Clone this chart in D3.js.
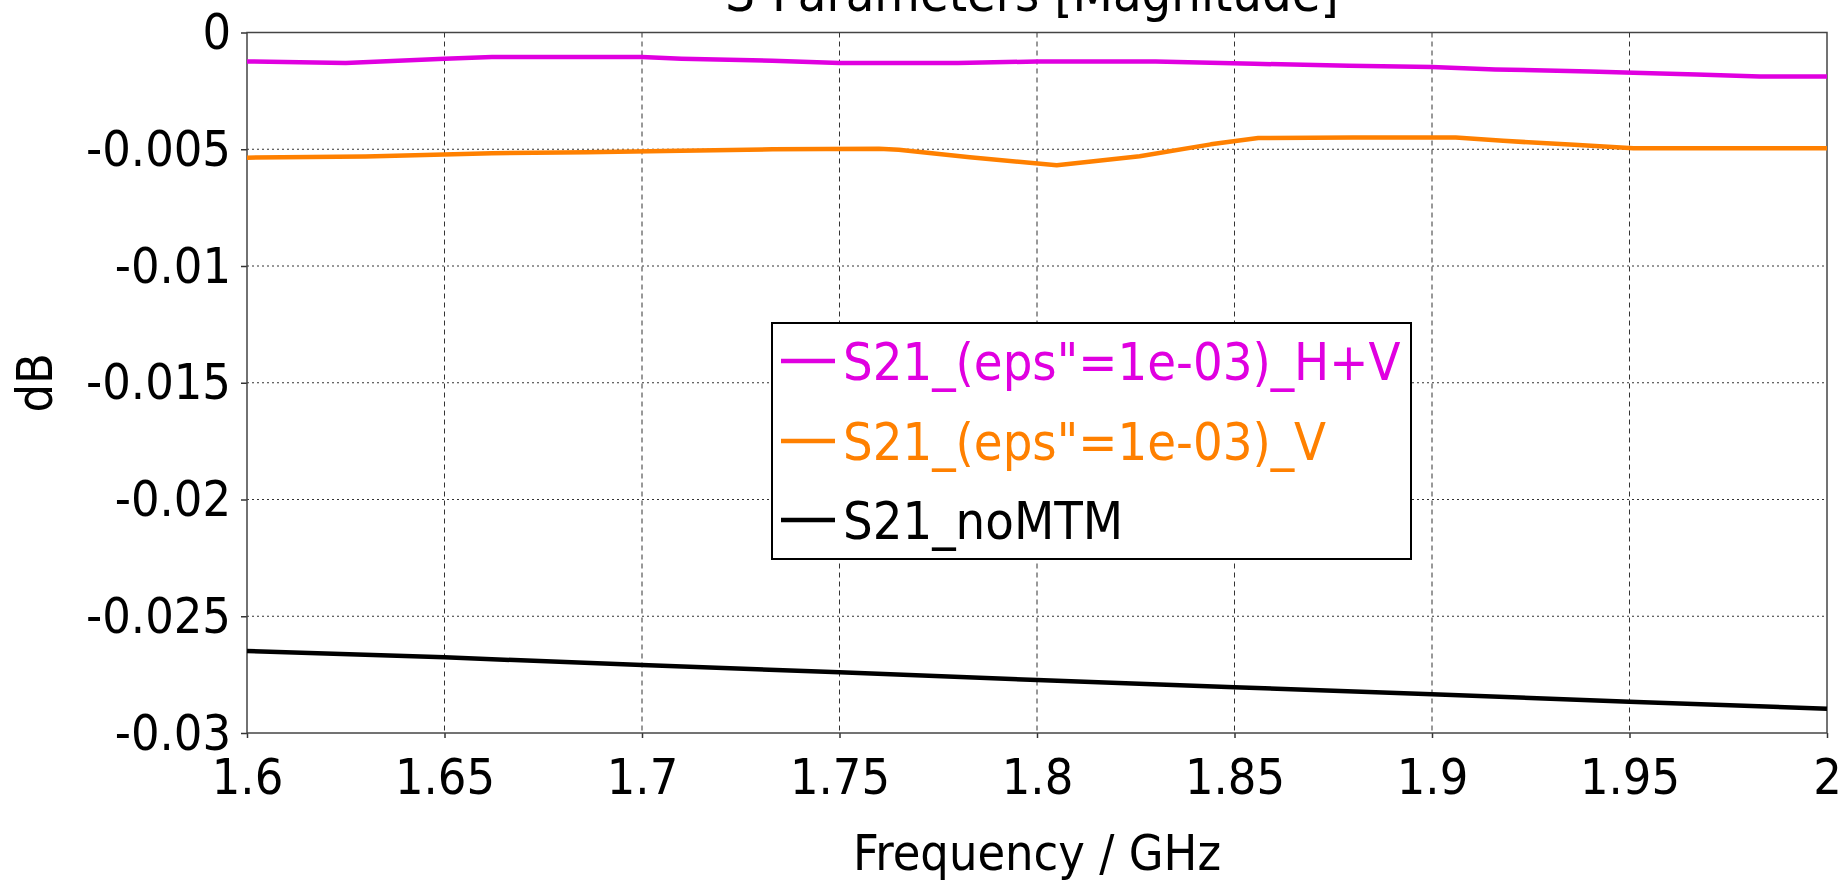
<!DOCTYPE html>
<html>
<head>
<meta charset="utf-8">
<script src="https://cdn.jsdelivr.net/npm/d3@7"></script>
<style>
  html, body { margin: 0; padding: 0; background: #fff; overflow: hidden; }
  text { font-family: "DejaVu Sans Condensed", "DejaVu Sans", sans-serif; }
</style>
</head>
<body>
<svg id="chart" width="1844" height="880"></svg>
<script>
// ---- Data ----
const xTicks = [1.6, 1.65, 1.7, 1.75, 1.8, 1.85, 1.9, 1.95, 2.0];
const xTickLabels = ["1.6", "1.65", "1.7", "1.75", "1.8", "1.85", "1.9", "1.95", "2"];
const yTicks = [0, -0.005, -0.01, -0.015, -0.02, -0.025, -0.03];
const yTickLabels = ["0", "-0.005", "-0.01", "-0.015", "-0.02", "-0.025", "-0.03"];

const freqHV = [1.600, 1.625, 1.650, 1.662, 1.700, 1.710, 1.733, 1.750, 1.780, 1.800, 1.830, 1.855, 1.879, 1.900, 1.916, 1.940, 1.951, 1.967, 1.983, 2.000];
const valHV  = [-0.00124, -0.00131, -0.00112, -0.00105, -0.00105, -0.00112, -0.00121, -0.00131, -0.00131, -0.00124, -0.00124, -0.00134, -0.00142, -0.00148, -0.00158, -0.00167, -0.00172, -0.00180, -0.00188, -0.00188];

const freqV = [1.600, 1.630, 1.645, 1.662, 1.686, 1.710, 1.733, 1.760, 1.765, 1.783, 1.805, 1.826, 1.844, 1.856, 1.880, 1.906, 1.918, 1.936, 1.951, 2.000];
const valV  = [-0.00536, -0.00531, -0.00525, -0.00517, -0.00513, -0.00506, -0.00500, -0.00498, -0.00502, -0.00534, -0.00569, -0.00530, -0.00479, -0.00452, -0.00450, -0.00450, -0.00464, -0.00481, -0.00496, -0.00496];

const freqNo = [1.60, 1.65, 1.70, 1.75, 1.80, 1.85, 1.90, 1.95, 2.00];
const valNo  = [-0.02649, -0.02676, -0.02709, -0.02740, -0.02773, -0.02804, -0.02834, -0.02866, -0.02896];

const seriesNames = ["S21_(eps\"=1e-03)_H+V", "S21_(eps\"=1e-03)_V", "S21_noMTM"];
const seriesColors = ["#e000e0", "#ff8000", "#000000"];

const titleText = "S-Parameters [Magnitude]";
const xLabel = "Frequency / GHz";
const yLabel = "dB";

// ---- Layout ----
const W = 1844, H = 880;
const margin = { left: 247, right: 17, top: 32.5, bottom: 147 };
const pw = W - margin.left - margin.right;
const ph = H - margin.top - margin.bottom;

const svg = d3.select("#chart");
const g = svg.append("g").attr("transform", `translate(${margin.left},${margin.top})`);

const x = d3.scaleLinear().domain([1.6, 2.0]).range([0, pw]);
const y = d3.scaleLinear().domain([-0.03, 0]).range([ph, 0]);

// Grid lines
g.append("g").selectAll("line").data(xTicks.slice(1, -1)).join("line")
  .attr("x1", d => x(d)).attr("x2", d => x(d))
  .attr("y1", 0).attr("y2", ph)
  .attr("stroke", "#333").attr("stroke-width", 1)
  .attr("stroke-dasharray", "5,4");
g.append("g").selectAll("line").data(yTicks.slice(1, -1)).join("line")
  .attr("x1", 0).attr("x2", pw)
  .attr("y1", d => y(d)).attr("y2", d => y(d))
  .attr("stroke", "#333").attr("stroke-width", 1)
  .attr("stroke-dasharray", "2,3");

// Axes
const xAxis = d3.axisBottom(x).tickValues(xTicks)
  .tickFormat((d, i) => xTickLabels[i]).tickSize(5).tickPadding(20);
const gx = g.append("g").attr("transform", `translate(0,${ph})`).call(xAxis);
gx.select(".domain").remove();
gx.selectAll("line").attr("stroke", "#333").attr("stroke-width", 1.5);
gx.selectAll("text").attr("font-size", 50).attr("fill", "#000")
  .attr("font-family", "'DejaVu Sans Condensed', 'DejaVu Sans', sans-serif");

const yAxis = d3.axisLeft(y).tickValues(yTicks)
  .tickFormat((d, i) => yTickLabels[i]).tickSize(6).tickPadding(10);
const gy = g.append("g").call(yAxis);
gy.select(".domain").remove();
gy.selectAll("line").attr("stroke", "#333").attr("stroke-width", 1.5);
gy.selectAll("text").attr("font-size", 50).attr("fill", "#000")
  .attr("font-family", "'DejaVu Sans Condensed', 'DejaVu Sans', sans-serif");

// Frame
g.append("rect").attr("x", 0).attr("y", 0).attr("width", pw).attr("height", ph)
  .attr("fill", "none").attr("stroke", "#444").attr("stroke-width", 1.5);

// Lines
const line = d3.line().x(d => x(d[0])).y(d => y(d[1]));
const series = [
  d3.zip(freqHV, valHV),
  d3.zip(freqV, valV),
  d3.zip(freqNo, valNo)
];
series.forEach((s, i) => {
  g.append("path").datum(s)
    .attr("d", line)
    .attr("fill", "none")
    .attr("stroke", seriesColors[i])
    .attr("stroke-width", 4.5)
    .attr("stroke-linejoin", "round");
});

// Legend
const lg = svg.append("g");
lg.append("rect").attr("x", 772).attr("y", 323).attr("width", 639).attr("height", 236)
  .attr("fill", "#fff").attr("stroke", "#000").attr("stroke-width", 2);
const rowY = [361, 441, 520];
seriesNames.forEach((name, i) => {
  lg.append("line").attr("x1", 781).attr("x2", 835)
    .attr("y1", rowY[i]).attr("y2", rowY[i])
    .attr("stroke", seriesColors[i]).attr("stroke-width", 4.5);
  lg.append("text").attr("x", 843).attr("y", rowY[i])
    .attr("dy", "0.36em")
    .attr("font-size", 52).attr("fill", seriesColors[i])
    .text(name);
});

// Title and axis labels
svg.append("text").attr("x", 1032).attr("y", 11)
  .attr("text-anchor", "middle").attr("font-size", 52).attr("fill", "#000")
  .text(titleText);
svg.append("text").attr("x", margin.left + pw / 2).attr("y", 870)
  .attr("text-anchor", "middle").attr("font-size", 50).attr("fill", "#000")
  .text(xLabel);
svg.append("text")
  .attr("transform", `translate(52,${margin.top + ph / 2}) rotate(-90)`)
  .attr("text-anchor", "middle").attr("font-size", 50).attr("fill", "#000")
  .text(yLabel);
</script>
</body>
</html>
